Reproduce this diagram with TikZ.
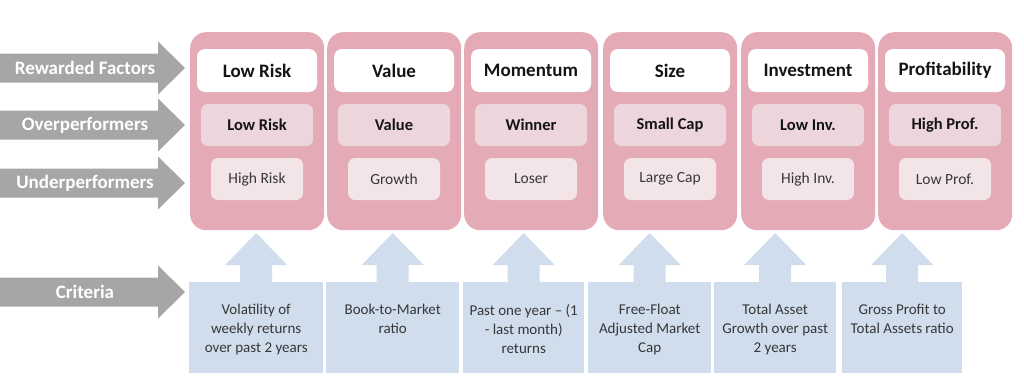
\documentclass[tikz,border=0pt]{standalone}
\usepackage{fontspec}
\setmainfont{Carlito}
\definecolor{pinkcol}{RGB}{228,170,182}
\definecolor{overc}{RGB}{236,214,219}
\definecolor{underc}{RGB}{242,228,231}
\definecolor{bluec}{RGB}{207,221,237}
\definecolor{grayarr}{RGB}{166,166,166}
\definecolor{txt}{RGB}{20,20,20}
\begin{document}
\begin{tikzpicture}[x=1pt,y=-1pt,
  col/.style={fill=pinkcol,rounded corners=16pt,minimum width=134pt,minimum height=198pt,inner sep=0pt,anchor=north west},
  hdr/.style={fill=white,rounded corners=8pt,minimum width=120pt,minimum height=43pt,inner sep=0pt,text=txt,font=\bfseries\fontsize{19}{22}\selectfont},
  overbox/.style={fill=overc,rounded corners=7pt,minimum width=112pt,minimum height=42pt,inner sep=0pt,text=txt,font=\bfseries\fontsize{16.5}{19}\selectfont},
  underbox/.style={fill=underc,rounded corners=7pt,minimum width=92pt,minimum height=42pt,inner sep=0pt,text=txt!85,font=\fontsize{15.5}{18}\selectfont},
  critbox/.style={fill=bluec,minimum height=91pt,inner sep=0pt,anchor=north west},
  crittext/.style={anchor=north,inner sep=0pt,align=center,text=txt!85,font=\fontsize{15}{19}\selectfont},
  sidelabel/.style={text=white,inner sep=0pt,font=\bfseries\fontsize{19}{22}\selectfont},
  garrow/.style={fill=grayarr},
  barrow/.style={fill=bluec}
]
\useasboundingbox (0,0) rectangle (1024,391);

% side arrows
\foreach \n/\c/\t in {rf/68/Rewarded Factors, op/125/Overperformers, up/183/Underperformers, cr/292/Criteria}{
  \fill[garrow] (0,\c-14.5) -- (158,\c-14.5) -- (158,\c-26.5) -- (185,\c) -- (158,\c+26.5) -- (158,\c+14.5) -- (0,\c+14.5) -- cycle;
  \node[sidelabel] (\n) at (85,\c) {\t};
}

% factor columns
\foreach \i/\x/\f/\o/\u in {1/190/Low Risk/Low Risk/High Risk, 2/327/Value/Value/Growth, 3/464/Momentum/Winner/Loser, 4/603/Size/Small Cap/Large Cap, 5/741/Investment/Low Inv./High Inv., 6/878/Profitability/High Prof./Low Prof.}{
  \node[col] (c\i) at (\x,32) {};
  \node[hdr] (h\i) at (\x+67,70.5) {\f};
  \node[overbox] (o\i) at (\x+67,125) {\o};
  \node[underbox] (u\i) at (\x+67,179) {\u};
}

% criteria boxes with up arrows
\foreach \i/\x/\w/\t in {1/189/134/{Volatility of\\weekly returns\\over past 2 years}, 2/326/133/{Book-to-Market\\ratio}, 3/463/121/{Past one year -- (1\\- last month)\\returns}, 4/588/123/{Free-Float\\Adjusted Market\\Cap}, 5/714/122/{Total Asset\\Growth over past\\2 years}, 6/842/120/{Gross Profit to\\Total Assets ratio}}{
  \node[critbox,minimum width=\w pt] (k\i) at (\x,282) {};
  \fill[barrow] ([xshift=-16pt]k\i.north) -- ++(0,-17) -- ++(-15,0) -- ++(31,-32) -- ++(31,32) -- ++(-15,0) -- ++(0,17) -- cycle;
  \node[crittext] (t\i) at ([yshift=-22pt]k\i.north) {\t};
}
\end{tikzpicture}
\end{document}
